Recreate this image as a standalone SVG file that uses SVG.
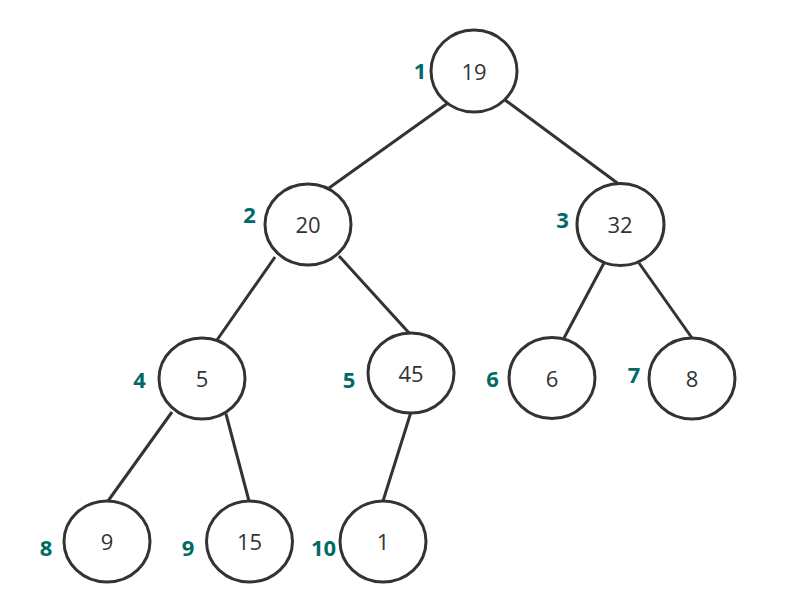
<svg xmlns="http://www.w3.org/2000/svg" width="788" height="611" viewBox="0 0 788 611">
<style>
.n ellipse{fill:#fff;stroke:#333;stroke-width:3}
.n text{font-family:"Open Sans","Noto Sans",sans-serif;font-size:22px;fill:#333;text-anchor:middle}
.lbl{font-family:"Open Sans","Noto Sans",sans-serif;font-size:22px;font-weight:bold;fill:#006b66;text-anchor:middle}
#edges line{stroke:#333;stroke-width:3}
</style>
<rect width="788" height="611" fill="#fff"/>
<g id="edges">
<line x1="448" y1="103" x2="329" y2="188"/>
<line x1="505" y1="100" x2="620" y2="185"/>
<line x1="275" y1="257" x2="217" y2="340"/>
<line x1="339" y1="256" x2="410" y2="334"/>
<line x1="604" y1="263" x2="564" y2="338"/>
<line x1="639" y1="263" x2="692" y2="338"/>
<line x1="172" y1="412" x2="108" y2="501"/>
<line x1="226" y1="414" x2="249" y2="501"/>
<line x1="411" y1="412" x2="383" y2="501"/>
</g>
<g id="n1" class="n"><ellipse cx="474" cy="71" rx="43" ry="41"/><text x="474" y="80">19</text></g>
<g id="n2" class="n"><ellipse cx="308" cy="224.5" rx="43" ry="40.5"/><text x="308" y="233">20</text></g>
<g id="n3" class="n"><ellipse cx="620.5" cy="224.5" rx="43.5" ry="41"/><text x="620" y="233">32</text></g>
<g id="n4" class="n"><ellipse cx="202" cy="378.5" rx="43" ry="40.5"/><text x="202" y="387">5</text></g>
<g id="n5" class="n"><ellipse cx="411" cy="373" rx="43" ry="40"/><text x="411" y="382">45</text></g>
<g id="n6" class="n"><ellipse cx="552" cy="378" rx="43" ry="40.5"/><text x="552" y="387">6</text></g>
<g id="n7" class="n"><ellipse cx="692" cy="378.5" rx="43" ry="40.5"/><text x="692" y="387">8</text></g>
<g id="n8" class="n"><ellipse cx="107" cy="541.5" rx="43" ry="40.5"/><text x="107" y="550">9</text></g>
<g id="n9" class="n"><ellipse cx="249.5" cy="541.5" rx="43" ry="40.5"/><text x="249.5" y="550">15</text></g>
<g id="n10" class="n"><ellipse cx="383" cy="541.5" rx="43" ry="40.5"/><text x="383" y="550">1</text></g>
<g id="labels">
<text class="lbl" x="420" y="79">1</text>
<text class="lbl" x="249.5" y="223">2</text>
<text class="lbl" x="562.5" y="228">3</text>
<text class="lbl" x="139.5" y="388">4</text>
<text class="lbl" x="349" y="388">5</text>
<text class="lbl" x="492.5" y="387">6</text>
<text class="lbl" x="634" y="383">7</text>
<text class="lbl" x="46" y="556">8</text>
<text class="lbl" x="188" y="556">9</text>
<text class="lbl" x="323.5" y="556">10</text>
</g>
</svg>
